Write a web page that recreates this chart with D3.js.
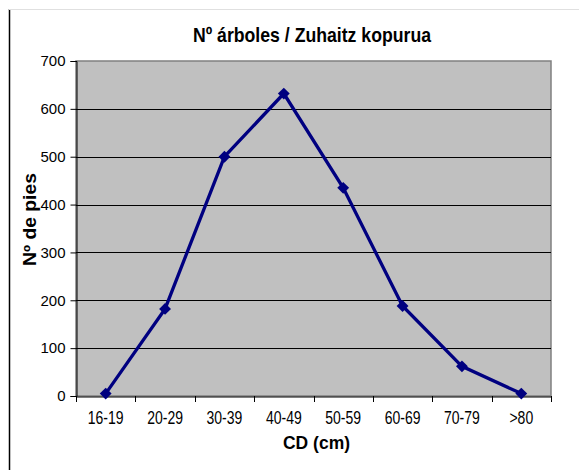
<!DOCTYPE html>
<html><head><meta charset="utf-8">
<script src="https://cdn.jsdelivr.net/npm/d3@7/dist/d3.min.js"></script>
<style>body{margin:0;background:#fff}svg{display:block}text{font-family:"Liberation Sans",Arial,sans-serif}</style>
</head><body>
<svg id="c" width="579" height="470"></svg>
<script>
const categories = ["16-19","20-29","30-39","40-49","50-59","60-69","70-79",">80"];
const values = [5,182,500,632,435,188,62,5];
const yTicks = [0,100,200,300,400,500,600,700];
const title = "Nº árboles / Zuhaitz kopurua";
const xTitle = "CD (cm)";
const yTitle = "Nº de pies";

const svg = d3.select("#c");
const m = {l:76, r:551, t:61, b:396};
// frame
svg.append("line").attr("x1",9.5).attr("x2",9.5).attr("y1",9).attr("y2",470).attr("stroke","#000").attr("stroke-width",1.5);
svg.append("line").attr("x1",9).attr("x2",579).attr("y1",9.5).attr("y2",9.5).attr("stroke","#e0e0e0").attr("stroke-width",1);

const x = d3.scaleBand().domain(categories).range([m.l,m.r]);
const y = d3.scaleLinear().domain([0,700]).range([m.b,m.t]);

svg.append("rect").attr("x",m.l).attr("y",m.t).attr("width",m.r-m.l).attr("height",m.b-m.t)
  .attr("fill","#c0c0c0").attr("stroke","#808080").attr("stroke-width",1.5);

svg.append("g").selectAll("line").data(yTicks.filter(d=>d>0 && d<700)).join("line")
  .attr("x1",m.l).attr("x2",m.r).attr("y1",d=>Math.round(y(d))+0.5).attr("y2",d=>Math.round(y(d))+0.5)
  .attr("stroke","#000").attr("stroke-width",1);

const ya = svg.append("g").attr("transform",`translate(${m.l+0.5},0)`)
  .call(d3.axisLeft(y).tickValues(yTicks).tickSize(6).tickPadding(5));
ya.select(".domain").attr("stroke","#000");
ya.selectAll("text").attr("font-size",15).attr("fill","#000").style("font-family","'Liberation Sans',Arial,sans-serif");

const xa = svg.append("g").attr("transform",`translate(0,${m.b+0.5})`)
  .call(d3.axisBottom(x).tickSize(0));
xa.select(".domain").attr("stroke","#000");
xa.selectAll("text").attr("font-size",17.5).attr("fill","#000").attr("y",28).attr("dy",0)
  .attr("transform","scale(0.8,1)")
  .style("font-family","'Liberation Sans',Arial,sans-serif");
// tick marks between categories
svg.append("g").selectAll("line").data(d3.range(categories.length+1)).join("line")
  .attr("x1",i=>Math.round(m.l+i*x.step())+0.5).attr("x2",i=>Math.round(m.l+i*x.step())+0.5)
  .attr("y1",m.b).attr("y2",m.b+6).attr("stroke","#000");

const line = d3.line().x((d,i)=>x(categories[i])+x.bandwidth()/2).y(d=>y(d));
svg.append("path").datum(values).attr("d",line).attr("fill","none").attr("stroke","#000080").attr("stroke-width",3.3).attr("stroke-linejoin","miter");
svg.append("g").selectAll("path").data(values).join("path")
  .attr("d",d3.symbol(d3.symbolSquare,70))
  .attr("transform",(d,i)=>`translate(${x(categories[i])+x.bandwidth()/2},${y(d)}) rotate(45)`)
  .attr("fill","#000080");

svg.append("text").attr("x",193).attr("y",42).attr("font-size",21).attr("font-weight","bold")
  .attr("textLength",238).attr("lengthAdjust","spacingAndGlyphs").text(title);
svg.append("text").attr("x",283).attr("y",449).attr("font-size",18.5).attr("font-weight","bold")
  .attr("textLength",67).attr("lengthAdjust","spacingAndGlyphs").text(xTitle);
svg.append("text").attr("transform","translate(36,266) rotate(-90)").attr("font-size",18).attr("font-weight","bold")
  .attr("textLength",93).attr("lengthAdjust","spacingAndGlyphs").text(yTitle);
</script>
</body></html>
